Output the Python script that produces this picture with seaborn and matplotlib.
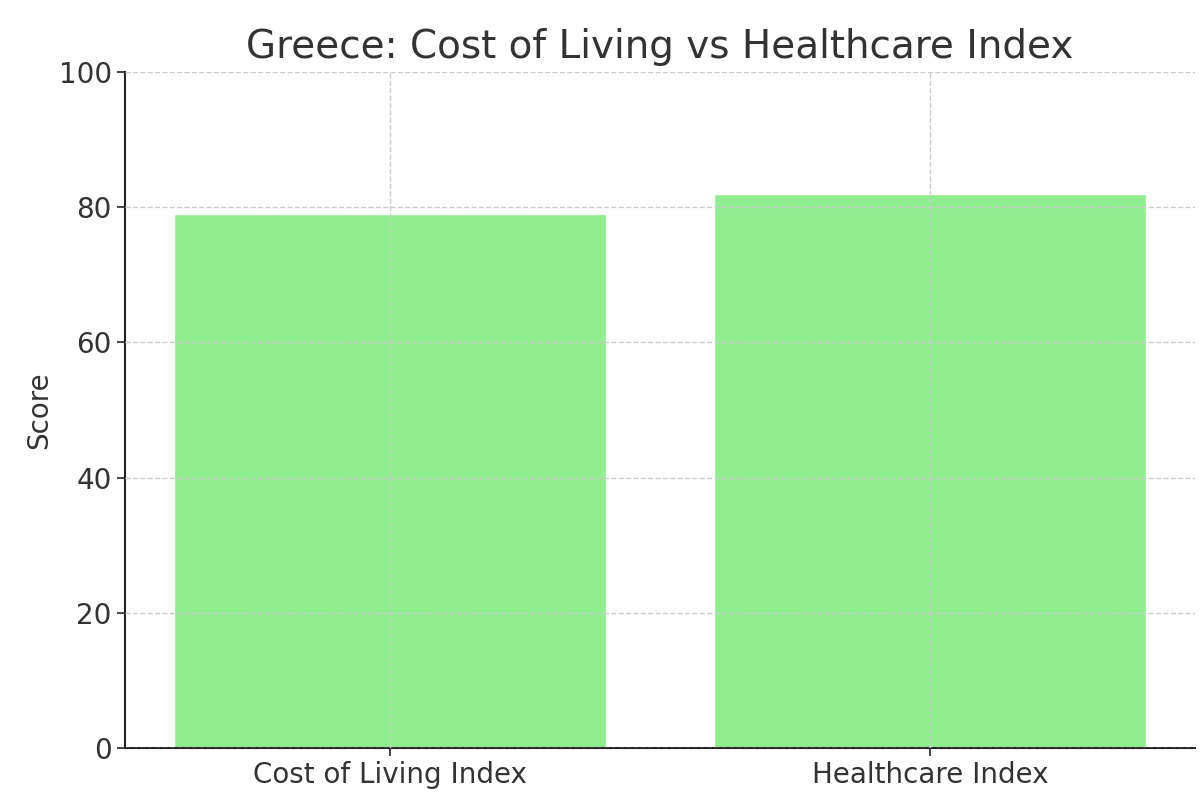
import matplotlib
matplotlib.use("Agg")
import matplotlib.pyplot as plt
import seaborn as sns
import pandas as pd

categories = ["Cost of Living Index", "Healthcare Index"]
values = [79, 82]

sns.set_style("white")
plt.rcParams['font.family'] = ['DejaVu Sans']
fig = plt.figure(figsize=(12, 7.99), dpi=100)
ax = fig.add_axes([125/1200, 1-748/799, 1070/1200, (748-72)/799])
df = pd.DataFrame({"cat": categories, "val": values})
sns.barplot(data=df, x="cat", y="val", color="#90EE90", saturation=1, width=0.8, ax=ax)
ax.set_xlim(-0.49, 1.49)
ax.set_ylim(0, 100)
ax.set_yticks([0, 20, 40, 60, 80, 100])
ax.grid(True, linestyle="--", color="#cccccc", linewidth=1)
ax.set_axisbelow(False)
for p in ax.patches:
    p.set_zorder(1)
ax.set_xlabel("")
ax.set_ylabel("Score", fontsize=20, color="#333333")
ax.set_title("Greece: Cost of Living vs Healthcare Index", fontsize=28, color="#333333", pad=10)
ax.tick_params(axis="both", labelsize=20, labelcolor="#333333", length=6, width=1.2, left=True, bottom=True)
for s in ["top", "right"]:
    ax.spines[s].set_visible(False)
for s in ["left", "bottom"]:
    ax.spines[s].set_linewidth(1.5)
    ax.spines[s].set_color("#222222")
fig.savefig("out.png", dpi=100)
